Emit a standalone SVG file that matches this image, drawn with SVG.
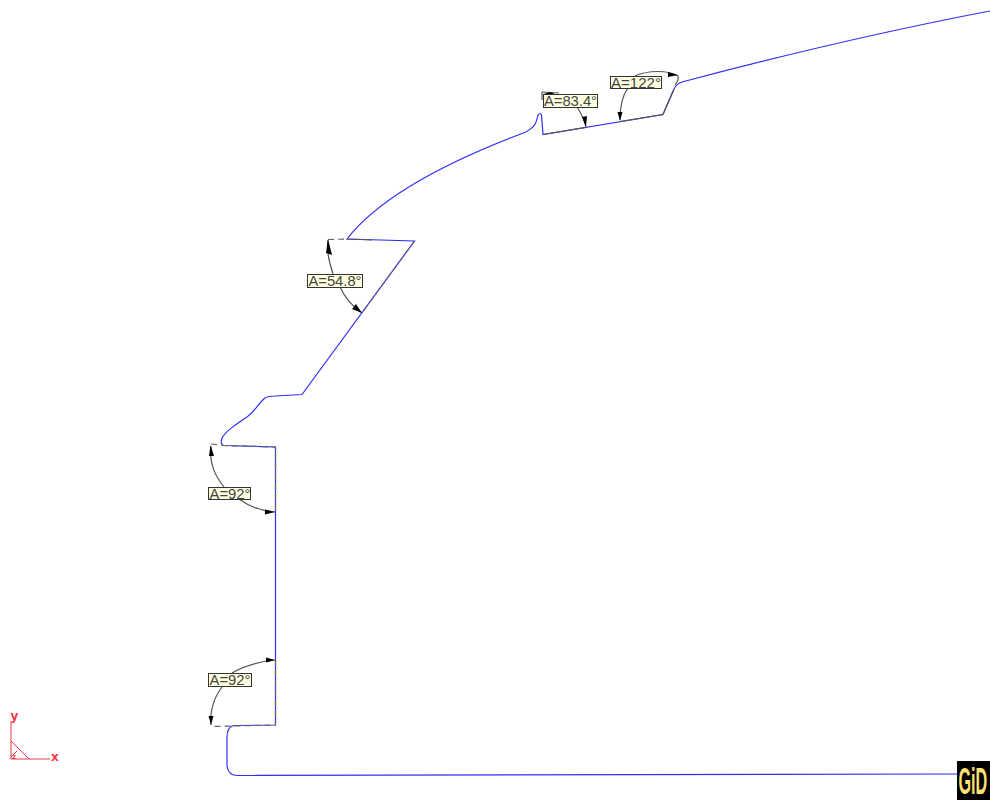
<svg xmlns="http://www.w3.org/2000/svg" width="990" height="801" viewBox="0 0 990 801">
<style>
.blue{fill:none;stroke:#2f2ff5;stroke-width:1.2}
.dim{fill:none;stroke:#555;stroke-width:1.2}
.dash{fill:none;stroke:#666;stroke-width:1.2;stroke-dasharray:6 4}
.head{fill:#000}
.box{fill:#ffffe0;stroke:#333;stroke-width:1}
.lbl{font-family:"Liberation Sans",Arial,sans-serif;font-size:15px;fill:#444}
.axis{fill:none;stroke:#f03a4a;stroke-width:1}
.axt{font-family:"DejaVu Sans",sans-serif;font-weight:bold;fill:#f03a4a}
</style>
<rect width="990" height="801" fill="#fff"/>
<g id="connectors">
<path class="blue" d="M990 11C880 32 780 56 682 82Q676 84 674 89L663 114.500L543 134.500L541.500 115Q540 112 538 115C536 125 534 127 526 132C470 153 385 190 347 239L414.500 241L302 394.500L275 396Q268 396 265 398C258 404 255 411 247 417C235 425 226 431 222 438Q220 445 224 445.500L275.500 447L275.500 725L234 725.500Q227 727 227 737L227 766Q228 775.500 238 775.500L958 774"/>
<path class="dash" d="M328 239.500L347 239"/>
<path class="dim" d="M347 239L372 240"/>
<path class="dash" d="M414.500 241L362 313"/>
<path class="dash" d="M211 444L222 445"/>
<path class="dash" d="M222 445.500L275.500 447L275.500 512"/>
<path class="dash" d="M275.500 660L275.500 725L212 726.500"/>
<path class="dim" d="M542 92L542 100M543 134.500L586 127.300M620 121.700L663 114.500L674 89"/>
<path class="dim" d="M328 240C326 252 330 265 333 274"/>
<path class="dim" d="M340 287C345 298 352 306 362 313"/>
<path class="dim" d="M211 446C209 465 216 477 224 487"/>
<path class="dim" d="M239 499C250 507 262 511 275 512"/>
<path class="dim" d="M275 660C256 662 242 667 232 673"/>
<path class="dim" d="M222 687C213 699 210 712 211 725"/>
<path class="dim" d="M542 92L559 93M577 107C581 113 584 119 586 127"/>
<path class="dim" d="M628 88C622 96 620 108 620 120"/>
<path class="dim" d="M635 76C648 70 668 70 678 76Q679 80 675 85"/>
<path class="head" d="M328 239L332 255L326 253Z"/>
<path class="head" d="M362 313L352 309L356 304Z"/>
<path class="head" d="M210.500 445L214 456L209 456Z"/>
<path class="head" d="M275 512L265 514.500L265 509.500Z"/>
<path class="head" d="M275 660L266 662.500L266 657.500Z"/>
<path class="head" d="M211 725L208.500 716L213.500 716Z"/>
<path class="head" d="M586 127L582 117L587 116Z"/>
<path class="head" d="M620 121L617.500 112L622.500 112Z"/>
<path class="head" d="M678 75L668 72L668 77Z"/>
<path class="head" d="M550 92L542 94.500L556 94.500Z"/>
</g>
<g id="label-83"><rect class="box" x="543.500" y="94.500" width="54" height="13"/><text class="lbl" x="544" y="106" textLength="53" lengthAdjust="spacingAndGlyphs">A=83.4°</text></g>
<g id="label-122"><rect class="box" x="610.500" y="76.500" width="51" height="12"/><text class="lbl" x="611" y="87.500" textLength="50" lengthAdjust="spacingAndGlyphs">A=122°</text></g>
<g id="label-54"><rect class="box" x="307.500" y="274.500" width="55" height="13"/><text class="lbl" x="308.500" y="286" textLength="53" lengthAdjust="spacingAndGlyphs">A=54.8°</text></g>
<g id="label-92a"><rect class="box" x="208.500" y="487.500" width="42" height="12"/><text class="lbl" x="209.500" y="498.500" textLength="41" lengthAdjust="spacingAndGlyphs">A=92°</text></g>
<g id="label-92b"><rect class="box" x="208.500" y="673.500" width="43" height="13"/><text class="lbl" x="209.500" y="685" textLength="41" lengthAdjust="spacingAndGlyphs">A=92°</text></g>
<g id="axes">
<path class="axis" d="M11 721L11 759L50 759M11 741L29 759M11 757L17 751"/>
<text class="axt" x="10.500" y="720" font-size="12">y</text>
<text class="axt" x="51" y="761" font-size="12">x</text>
<text class="axt" x="12" y="759" font-size="7">z</text>
</g>
<g id="logo">
<rect x="957" y="761" width="33" height="39" fill="#000"/>
<text transform="translate(958.500 794) scale(0.45 1)" font-family="'Liberation Sans',sans-serif" font-weight="bold" font-size="36" fill="#ffe070">GiD</text>
</g>
</svg>
